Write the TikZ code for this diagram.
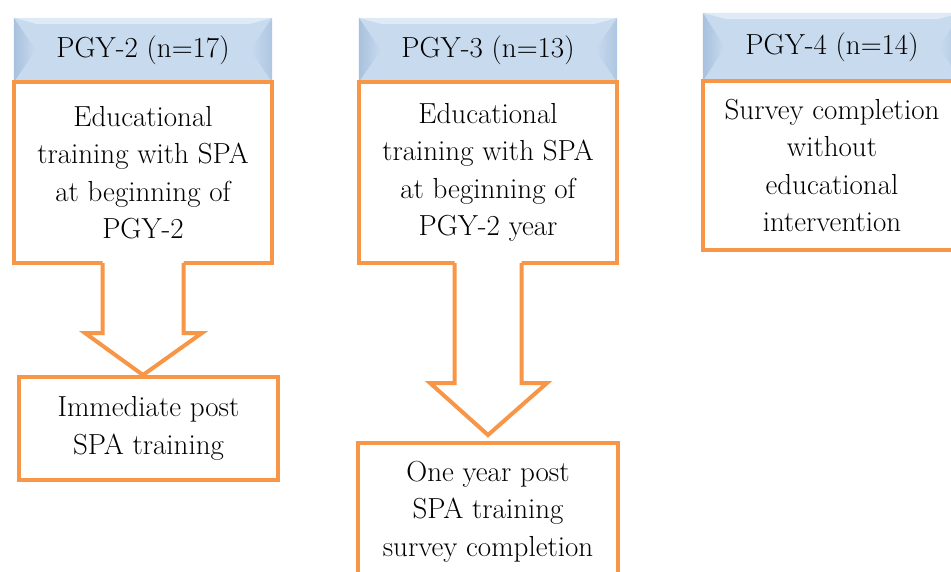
\documentclass[tikz,border=0pt]{standalone}
\usepackage{fontspec}
\usetikzlibrary{calc}
\pgfdeclarelayer{background}
\pgfsetlayers{background,main}
\definecolor{orng}{RGB}{247,150,70}
\definecolor{hdrblue}{RGB}{200,218,238}
\definecolor{hdrdark}{RGB}{168,193,222}
\definecolor{hdrlight}{RGB}{222,234,246}
\begin{document}
\begin{tikzpicture}[x=1pt,y=-1pt,
  txt/.style={font=\rmfamily\fontsize{29}{37.5}\selectfont, align=center, text=black},
  hdr/.style={txt, minimum width=258pt, inner sep=0pt, anchor=center},
  body/.style={txt, draw=orng, line width=4pt, fill=white, inner sep=0pt, anchor=center},
  blk/.style={draw=orng, line width=4pt, line join=miter}]
\useasboundingbox (0,0) rectangle (951,571);

% headers
\node[hdr, minimum height=64pt] (h1) at (143,50) {PGY-2 (n=17)};
\node[hdr, minimum height=64pt] (h2) at (488,50) {PGY-3 (n=13)};
\node[hdr, minimum height=68pt] (h3) at (832,47) {PGY-4 (n=14)};
\begin{pgfonlayer}{background}
\fill[white] (0,0) rectangle (951,571);
\foreach \h in {h1,h2,h3}{
  \fill[hdrblue] (\h.north west) rectangle (\h.south east);
  \fill[hdrlight] (\h.north west) -- (\h.north east) -- ($(\h.north east)+(-22,6)$) -- ($(\h.north west)+(22,6)$) -- cycle;
  \shade[left color=hdrdark, right color=hdrblue] (\h.north west) -- ($(\h.west)+(22,0)$) -- (\h.south west) -- cycle;
  \shade[left color=hdrblue, right color=hdrdark!80!hdrblue] (\h.north east) -- ($(\h.east)+(-22,0)$) -- (\h.south east) -- cycle;
}
\end{pgfonlayer}

% body boxes
\node[body, minimum width=258pt, minimum height=181pt] (b1) at (143,172.5)
  {Educational\\training with SPA\\at beginning of\\PGY-2};
\node[body, minimum width=258pt, minimum height=181pt] (b2) at (488,172.5)
  {Educational\\training with SPA\\at beginning of\\PGY-2 year};
\node[body, minimum width=258pt, minimum height=169pt] (b3) at (832,165.5)
  {Survey completion\\without\\educational\\intervention};
\node[body, minimum width=259pt, minimum height=103pt] (c1) at (148.5,428.5)
  {Immediate post\\SPA training};
\node[body, minimum width=260pt, minimum height=137pt] (c2) at (488,511.5)
  {One year post\\SPA training\\survey completion};

% block arrows
\fill[white] ($(b1.south)+(-40.5,-6)$) -- ($(b1.south)+(40.5,-6)$) -- ($(b1.south)+(40.5,68)$)
  -- ($(b1.south)+(59,68)$) -- (c1.north -| b1.south) -- ($(b1.south)+(-58,68)$) -- ($(b1.south)+(-40.5,68)$) -- cycle;
\draw[blk] ($(b1.south)+(-40.5,-2)$) -- ($(b1.south)+(-40.5,68)$) -- ($(b1.south)+(-58,68)$)
  -- (c1.north -| b1.south) -- ($(b1.south)+(59,68)$) -- ($(b1.south)+(40.5,68)$) -- ($(b1.south)+(40.5,-2)$);

\fill[white] ($(b2.south)+(-33.5,-6)$) -- ($(b2.south)+(33.5,-6)$) -- ($(b2.south)+(33.5,118)$)
  -- ($(b2.south)+(59,118)$) -- ($(c2.north)+(0,-6)$) -- ($(b2.south)+(-58,118)$) -- ($(b2.south)+(-33.5,118)$) -- cycle;
\draw[blk] ($(b2.south)+(-33.5,-2)$) -- ($(b2.south)+(-33.5,118)$) -- ($(b2.south)+(-58,118)$)
  -- ($(c2.north)+(0,-6)$) -- ($(b2.south)+(59,118)$) -- ($(b2.south)+(33.5,118)$) -- ($(b2.south)+(33.5,-2)$);
\end{tikzpicture}
\end{document}
